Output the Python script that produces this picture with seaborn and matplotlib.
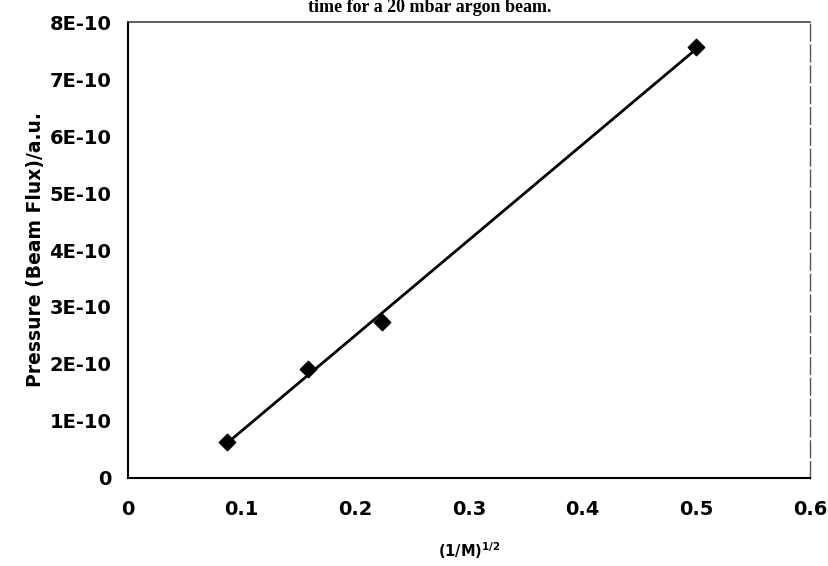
"""Beam flux vs (1/M)^1/2 with linear trendline."""
import matplotlib

matplotlib.use("Agg")
import matplotlib.pyplot as plt   # noqa: E402
import numpy as np                 # noqa: E402
import pandas as pd                # noqa: E402
import seaborn as sns              # noqa: E402
from matplotlib.ticker import FuncFormatter, MultipleLocator  # noqa: E402

# data (Xe, Ar, Ne, He)
inv_sqrt_mass = [0.0874, 0.1582, 0.2236, 0.5000]
pressure = [0.63e-10, 1.91e-10, 2.74e-10, 7.56e-10]

title_text = "time for a 20 mbar argon beam."
x_label = r"(1/M)$^{\mathbf{1/2}}$"
y_label = "Pressure (Beam Flux)/a.u."

df = pd.DataFrame({"x": inv_sqrt_mass, "y": pressure})

sns.set_style("white", {"text.color": "black", "axes.labelcolor": "black",
                        "xtick.color": "black", "ytick.color": "black"})
plt.rcParams["font.family"] = ["DejaVu Sans"]
plt.rcParams["mathtext.fontset"] = "dejavusans"

fig = plt.figure(figsize=(8.29, 5.66), dpi=100)
ax = fig.add_axes([0.1544, 0.1555, 0.8226, 0.8056])

sns.regplot(data=df, x="x", y="y", ax=ax, ci=None, marker="D",
            scatter_kws={"s": 70, "color": "black", "edgecolor": "black",
                         "alpha": 1, "zorder": 3},
            line_kws={"color": "black", "lw": 2.0})

ax.set_xlim(0, 0.6)
ax.set_ylim(0, 8e-10)
ax.xaxis.set_major_locator(MultipleLocator(0.1))
ax.yaxis.set_major_locator(MultipleLocator(1e-10))
ax.xaxis.set_major_formatter(FuncFormatter(lambda v, _: "0" if abs(v) < 1e-9 else f"{v:.1f}"))
ax.yaxis.set_major_formatter(FuncFormatter(
    lambda v, _: "0" if abs(v) < 1e-15 else f"{round(v * 1e10)}E-10"))

ax.tick_params(axis="both", direction="out", length=3, width=1, color="black",
               labelcolor="black", labelsize=14, pad=9)
ax.tick_params(axis="x", pad=13)
for lab in ax.get_xticklabels() + ax.get_yticklabels():
    lab.set_fontweight("bold")

ax.set_xlabel(x_label, fontsize=10.5, fontweight="bold", labelpad=15, color="black")
ax.set_ylabel(y_label, fontsize=13.5, fontweight="bold", labelpad=3, color="black")

for side in ("left", "bottom"):
    ax.spines[side].set_color("black")
    ax.spines[side].set_linewidth(1.5)
ax.spines["top"].set_color("#444444")
ax.spines["top"].set_linewidth(1.2)
ax.spines["right"].set_color("#555555")
ax.spines["right"].set_linewidth(1.0)
ax.spines["right"].set_linestyle((0, (12, 3)))

fig.text(0.518, 1 - 12 / 566, title_text, ha="center", va="baseline", color="black",
         family=["Liberation Serif", "DejaVu Serif"], fontweight="bold", fontsize=13)

fig.savefig("out.png", dpi=100)
plt.close(fig)
